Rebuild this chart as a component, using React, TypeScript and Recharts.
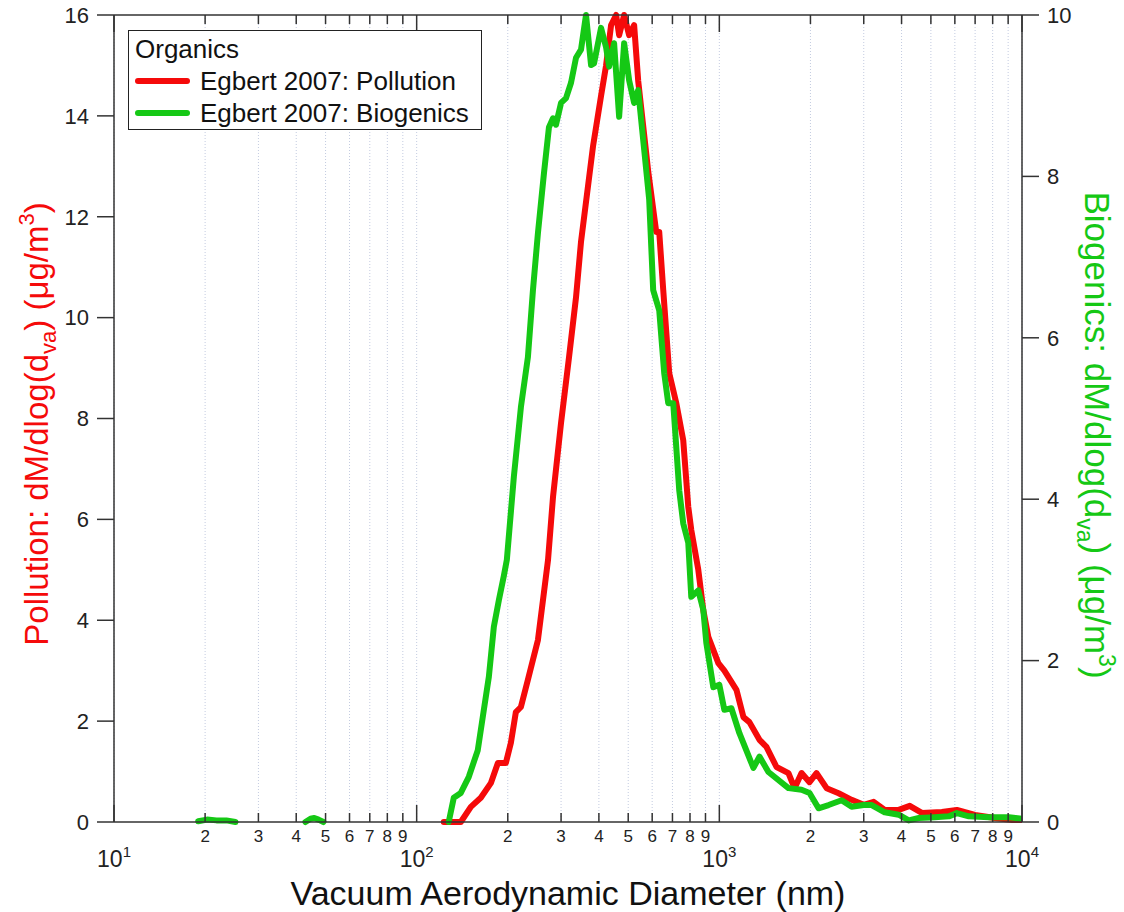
import React from "react";
import { LineChart, Line, XAxis, YAxis, CartesianGrid, Legend, Label } from "recharts";

// Egbert 2007 organics size distributions (diameter in nm)
const pollutionDiameter = [
  122.9, 139.9, 151.0, 162.9, 175.8, 185.5, 197.1, 204.8, 212.7, 221.0, 233.1, 251.6, 261.4,
  271.6, 282.1, 299.9, 318.8, 336.1, 349.1, 382.6, 406.7, 422.5, 438.9, 456.0, 466.6, 484.7,
  503.5, 523.0, 539.3, 582.1, 618.7, 633.0, 652.6, 683.1, 720.4, 759.9, 789.5, 807.8, 852.1,
  885.1, 919.5, 992.4, 1039, 1139, 1201, 1257, 1357, 1431, 1545, 1692, 1772, 1869, 1986, 2095,
  2262, 2478, 2736, 2998, 3236, 3519, 3914, 4257, 4666, 5435, 6093, 6991, 8139, 9267, 10000,
];
const pollutionValue = [
  0, 0, 0.3, 0.48, 0.77, 1.17, 1.17, 1.57, 2.18, 2.28, 2.82, 3.61, 4.4,
  5.19, 6.44, 7.91, 9.22, 10.4, 11.5, 13.4, 14.4, 15.0, 15.8, 16.0, 15.6, 16.0,
  15.6, 15.8, 14.7, 12.9, 11.7, 11.7, 10.55, 8.9, 8.31, 7.57, 6.25, 5.79, 5.0,
  4.2, 3.67, 3.15, 3.0, 2.62, 2.08, 1.98, 1.63, 1.49, 1.09, 0.97, 0.67, 0.97, 0.79, 0.97,
  0.67, 0.57, 0.44, 0.34, 0.4, 0.24, 0.24, 0.32, 0.18, 0.2, 0.24, 0.14, 0.08, 0.04, 0.04,
];

const biogenicsDiameter = [
  18.97, 20.3, 21.8, 23.5, 25.2, 30, 42.9, 44.6, 45.9, 47.4, 49.2, 80,
  127.6, 132.6, 139.9, 148.7, 159.2, 166.7, 173.2, 179.9, 186.9, 194.1, 198.6, 209.5, 221.0,
  233.1, 242.2, 251.6, 263.4, 273.6, 282.1, 288.6, 299.9, 311.5, 323.6, 336.1, 349.1, 362.7,
  376.8, 385.5, 406.7, 422.5, 432.3, 449.1, 466.6, 484.7, 503.5, 523.0, 539.3, 564.6, 586.5,
  604.6, 633.0, 657.6, 677.9, 704.2, 737.1, 759.9, 789.5, 807.8, 852.1, 885.1, 905.7, 955.2,
  1000, 1039, 1096, 1165, 1296, 1357, 1453, 1692, 1869, 1986, 2127, 2296, 2535, 2736, 2998,
  3187, 3519, 3914, 4225, 4560, 5151, 5732, 6093, 6676, 7777, 9057, 10000,
];
const biogenicsValue: (number | null)[] = [
  0.01, 0.03, 0.02, 0.02, 0.0, null, 0, 0.04, 0.05, 0.03, 0, null,
  0, 0.3, 0.36, 0.56, 0.89, 1.39, 1.8, 2.42, 2.75, 3.05, 3.25, 4.28, 5.14,
  5.76, 6.59, 7.3, 8.04, 8.61, 8.72, 8.64, 8.91, 8.97, 9.16, 9.47, 9.57, 10.0,
  9.38, 9.4, 9.84, 9.6, 9.36, 9.65, 8.74, 9.65, 9.19, 8.91, 9.07, 8.33, 7.71,
  6.59, 6.34, 5.56, 5.19, 5.19, 4.11, 3.7, 3.46, 2.79, 2.87, 2.63, 2.22, 1.67,
  1.7, 1.39, 1.41, 1.1, 0.67, 0.81, 0.62, 0.42, 0.4, 0.36, 0.17, 0.21, 0.27, 0.19, 0.21,
  0.21, 0.12, 0.09, 0.02, 0.05, 0.06, 0.07, 0.11, 0.07, 0.06, 0.06, 0.04,
];

const diameterTicks = [
  10, 20, 30, 40, 50, 60, 70, 80, 90,
  100, 200, 300, 400, 500, 600, 700, 800, 900,
  1000, 2000, 3000, 4000, 5000, 6000, 7000, 8000, 9000, 10000,
];
const pollutionTicks = [0, 2, 4, 6, 8, 10, 12, 14, 16];
const biogenicsTicks = [0, 2, 4, 6, 8, 10];

const pollutionData = pollutionDiameter.map((d, i) => ({ d, v: pollutionValue[i] }));
const biogenicsData = biogenicsDiameter.map((d, i) => ({ d, v: biogenicsValue[i] }));

const RED = "#f50a0a";
const GREEN = "#15c815";
const AXIS = "#333";
const FONT = "Arial, 'Liberation Sans', Helvetica, sans-serif";

function DiameterTick(props: any) {
  const { x, y, payload, side } = props;
  const value = payload.value as number;
  const lg = Math.log10(value);
  const exp = Math.round(lg);
  const major = Math.abs(lg - exp) < 1e-9;
  const len = major ? 17 : 9;
  const dir = side === "top" ? 1 : -1;
  const digit = Math.round(value / Math.pow(10, Math.floor(lg + 1e-9)));
  return (
    <g>
      <line x1={x} x2={x} y1={y} y2={y + dir * len} stroke={AXIS} strokeWidth={1.5} />
      {side !== "top" &&
        (major ? (
          <text x={x} y={y + 45} textAnchor="middle" fontSize={23} fill="#222">
            10
            <tspan dy={-10} fontSize={15}>
              {exp}
            </tspan>
          </text>
        ) : (
          <text x={x} y={y + 20} textAnchor="middle" fontSize={17} fill="#222">
            {digit}
          </text>
        ))}
    </g>
  );
}

function LegendBox() {
  const row = { display: "flex", alignItems: "center", height: 32 } as const;
  const swatch = (c: string) => (
    <span style={{ display: "inline-block", width: 55, height: 6, borderRadius: 3, background: c, marginRight: 10 }} />
  );
  return (
    <div
      style={{
        border: "1.5px solid #222",
        background: "#fff",
        padding: "2px 4px 2px 6px",
        fontSize: 26,
        color: "#111",
        lineHeight: "32px",
        boxSizing: "border-box",
        width: 354,
        height: 100,
        whiteSpace: "nowrap",
      }}
    >
      <div style={{ height: 32 }}>Organics</div>
      <div style={row}>
        {swatch(RED)}
        Egbert 2007: Pollution
      </div>
      <div style={row}>
        {swatch(GREEN)}
        Egbert 2007: Biogenics
      </div>
    </div>
  );
}

export default function App() {
  return (
    <div style={{ position: "absolute", left: 0, top: 0, fontFamily: FONT, background: "#fff" }}>
      <LineChart width={1124} height={912} margin={{ top: 0, right: 22, bottom: 0, left: 34 }}>
        <CartesianGrid horizontal={false} stroke="#c3cbe0" strokeDasharray="1 2" />
        <XAxis
          dataKey="d"
          type="number"
          scale="log"
          domain={[10, 10000]}
          allowDataOverflow
          ticks={diameterTicks}
          interval={0}
          height={90}
          tickSize={0}
          tickMargin={0}
          tickLine={false}
          axisLine={{ stroke: AXIS, strokeWidth: 1.5 }}
          tick={<DiameterTick side="bottom" />}
        >
          <Label
            content={(p: any) => {
              const vb = p.viewBox;
              return (
                <text x={vb.x + vb.width / 2} y={vb.y + 83} textAnchor="middle" fontSize={34} fill="#111">
                  Vacuum Aerodynamic Diameter (nm)
                </text>
              );
            }}
          />
        </XAxis>
        <XAxis
          xAxisId="top"
          dataKey="d"
          orientation="top"
          type="number"
          scale="log"
          domain={[10, 10000]}
          allowDataOverflow
          ticks={diameterTicks}
          interval={0}
          height={15}
          tickSize={0}
          tickMargin={0}
          tickLine={false}
          axisLine={{ stroke: AXIS, strokeWidth: 1.5 }}
          tick={<DiameterTick side="top" />}
        />
        <YAxis
          yAxisId="left"
          domain={[0, 16]}
          ticks={pollutionTicks}
          width={80}
          tickSize={17}
          tickMargin={8}
          tickLine={{ stroke: AXIS, strokeWidth: 1.5 }}
          axisLine={{ stroke: AXIS, strokeWidth: 1.5 }}
          tick={{ fontSize: 22, fill: "#222" }}
        >
          <Label
            content={() => (
              <text transform="translate(48,424) rotate(-90)" textAnchor="middle" fontSize={33} fill={RED}>
                Pollution: dM/dlog(d
                <tspan dy={8} fontSize={22}>va</tspan>
                <tspan dy={-8}>) (μg/m</tspan>
                <tspan dy={-14} fontSize={22}>3</tspan>
                <tspan dy={14}>)</tspan>
              </text>
            )}
          />
        </YAxis>
        <YAxis
          yAxisId="right"
          orientation="right"
          domain={[0, 10]}
          ticks={biogenicsTicks}
          width={80}
          tickSize={17}
          tickMargin={8}
          tickLine={{ stroke: AXIS, strokeWidth: 1.5 }}
          axisLine={{ stroke: AXIS, strokeWidth: 1.5 }}
          tick={{ fontSize: 22, fill: "#222" }}
        >
          <Label
            content={() => (
              <text transform="translate(1085,435) rotate(90)" textAnchor="middle" fontSize={35} fill={GREEN}>
                Biogenics: dM/dlog(d
                <tspan dy={8} fontSize={23}>va</tspan>
                <tspan dy={-8}>) (μg/m</tspan>
                <tspan dy={-14} fontSize={23}>3</tspan>
                <tspan dy={14}>)</tspan>
              </text>
            )}
          />
        </YAxis>
        <Legend
          layout="vertical"
          align="center"
          verticalAlign="middle"
          content={() => <LegendBox />}
          wrapperStyle={{ position: "absolute", left: 128, top: 30, width: 354, height: 100 }}
        />
        <Line
          yAxisId="left"
          data={pollutionData}
          dataKey="v"
          name="Egbert 2007: Pollution"
          type="linear"
          stroke={RED}
          strokeWidth={6}
          strokeLinejoin="round"
          strokeLinecap="round"
          dot={false}
          activeDot={false}
          isAnimationActive={false}
        />
        <Line
          yAxisId="right"
          data={biogenicsData}
          dataKey="v"
          name="Egbert 2007: Biogenics"
          type="linear"
          stroke={GREEN}
          strokeWidth={6}
          strokeLinejoin="round"
          strokeLinecap="round"
          dot={false}
          activeDot={false}
          connectNulls={false}
          isAnimationActive={false}
        />
      </LineChart>
    </div>
  );
}
